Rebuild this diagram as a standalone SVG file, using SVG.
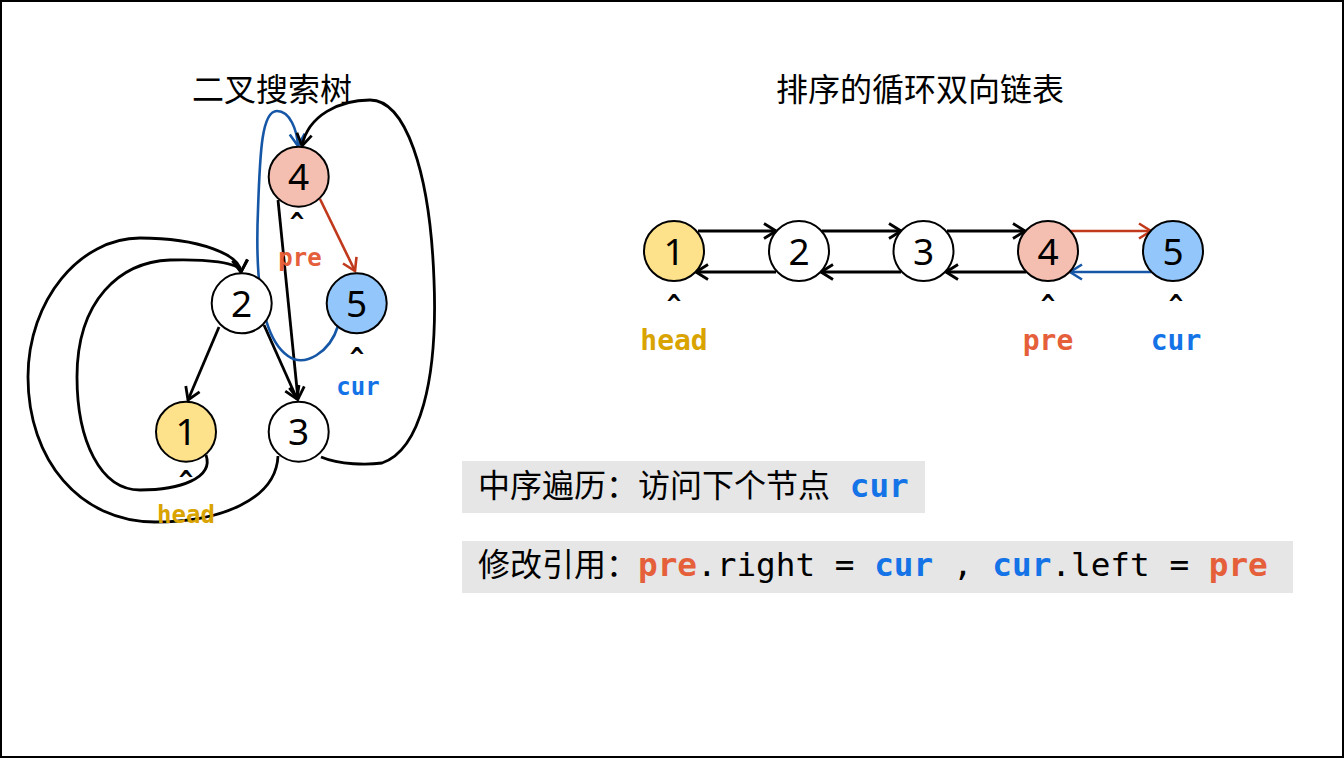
<svg xmlns="http://www.w3.org/2000/svg" width="1344" height="758" viewBox="0 0 1344 758">
<style>
.frame{fill:#fff;stroke:#000;stroke-width:2}
.node circle{stroke:#000;stroke-width:2}
.num{font-family:"Noto Sans","DejaVu Sans",sans-serif;font-size:37px;text-anchor:middle;fill:#000}
.cjk{font-family:"Noto Sans CJK SC",sans-serif;font-size:32px;fill:#000}
.mono{font-family:"DejaVu Sans Mono","Liberation Mono",monospace;font-size:32.7px;fill:#000}
.b{font-weight:bold}
.caret{font-family:"DejaVu Sans Mono",monospace;font-size:24px;font-weight:bold;text-anchor:middle;fill:#000}
.lbl{font-family:"DejaVu Sans Mono",monospace;font-weight:bold;text-anchor:middle}
.pre{fill:#e5603a}
.cur{fill:#1473e6}
.head{fill:#d9a300}
.e{fill:none;stroke:#000;stroke-width:2.8;marker-end:url(#ak)}
.er{fill:none;stroke:#c0391b;stroke-width:2.6;marker-end:url(#ar)}
.eb{fill:none;stroke:#1557a6;stroke-width:2.6;marker-end:url(#ab)}
.box{fill:#e6e6e6}
</style>
<defs>
<marker id="ak" markerUnits="userSpaceOnUse" markerWidth="16" markerHeight="18" viewBox="0 0 16 18" refX="14" refY="9" orient="auto"><path d="M2,1.5 L14,9 L2,16.5" fill="none" stroke="#000" stroke-width="2.8"/></marker>
<marker id="ar" markerUnits="userSpaceOnUse" markerWidth="16" markerHeight="18" viewBox="0 0 16 18" refX="14" refY="9" orient="auto"><path d="M2,1.5 L14,9 L2,16.5" fill="none" stroke="#c0391b" stroke-width="2.6"/></marker>
<marker id="ab" markerUnits="userSpaceOnUse" markerWidth="16" markerHeight="18" viewBox="0 0 16 18" refX="14" refY="9" orient="auto"><path d="M2,1.5 L14,9 L2,16.5" fill="none" stroke="#1557a6" stroke-width="2.6"/></marker>
</defs>
<rect class="frame" x="1" y="1" width="1342" height="756"/>

<text class="cjk" x="272" y="101" text-anchor="middle">二叉搜索树</text>
<text class="cjk" x="920" y="101" text-anchor="middle">排序的循环双向链表</text>

<g id="connectors">
<line class="e" x1="219" y1="327" x2="188" y2="400"/>
<line class="e" x1="264" y1="325" x2="297" y2="399"/>
<line class="e" x1="278" y1="200" x2="298" y2="399"/>
<line class="er" x1="320" y1="199" x2="355" y2="271"/>
<path class="eb" d="M338,326 C330,352 305,368 288,356 C262,338 255,280 258,210 C260,150 262,111 277,111 C290,111 297,130 298,146"/>
<path class="e" d="M321,457 C340,465 368,465 382,463 C420,450 438,380 434,280 C430,170 405,100 370,100 C340,100 308,115 302,146"/>
<path class="e" d="M206,455 C214,478 180,490 140,490 C100,490 77,440 77,377 C77,300 120,262 170,260 C205,259 240,262 241,272"/>
<path class="e" d="M278,456 C276,500 220,522 155,522 C80,522 28,460 28,377 C28,300 80,238 140,238 C200,238 240,255 241,272"/>
<line class="e" x1="698" y1="231" x2="776" y2="231"/>
<line class="e" x1="822" y1="231" x2="901" y2="231"/>
<line class="e" x1="947" y1="231" x2="1025" y2="231"/>
<line class="er" x1="1071" y1="231" x2="1151" y2="231"/>
<line class="e" x1="776" y1="272" x2="696" y2="272"/>
<line class="e" x1="901" y1="272" x2="821" y2="272"/>
<line class="e" x1="1026" y1="272" x2="946" y2="272"/>
<line class="eb" x1="1151" y1="272" x2="1070" y2="272"/>
</g>

<g id="t4" class="node"><circle cx="298.7" cy="176.7" r="30" fill="#f4bfb0"/><text class="num" x="298.7" y="190">4</text></g>
<g id="t5" class="node"><circle cx="356.7" cy="303.3" r="30" fill="#93c6fa"/><text class="num" x="356.7" y="316.6">5</text></g>
<g id="t2" class="node"><circle cx="241.7" cy="303.3" r="30" fill="#fff"/><text class="num" x="241.7" y="316.6">2</text></g>
<g id="t1" class="node"><circle cx="186" cy="431.7" r="30" fill="#fde28b"/><text class="num" x="186" y="445">1</text></g>
<g id="t3" class="node"><circle cx="298.7" cy="431.7" r="30" fill="#fff"/><text class="num" x="298.7" y="445">3</text></g>

<g id="tree-labels">
<text class="caret" x="297" y="230">^</text>
<text class="lbl pre" x="300" y="266" font-size="24">pre</text>
<text class="caret" x="357" y="365">^</text>
<text class="lbl cur" x="358" y="395" font-size="24">cur</text>
<text class="caret" x="186" y="488">^</text>
<text class="lbl head" x="186" y="523" font-size="24">head</text>
</g>

<g id="l1" class="node"><circle cx="674" cy="251" r="30" fill="#fde28b"/><text class="num" x="674" y="264.5">1</text></g>
<g id="l2" class="node"><circle cx="799" cy="251" r="30" fill="#fff"/><text class="num" x="799" y="264.5">2</text></g>
<g id="l3" class="node"><circle cx="923.5" cy="251" r="30" fill="#fff"/><text class="num" x="923.5" y="264.5">3</text></g>
<g id="l4" class="node"><circle cx="1048" cy="251" r="30" fill="#f4bfb0"/><text class="num" x="1048" y="264.5">4</text></g>
<g id="l5" class="node"><circle cx="1173" cy="251" r="30" fill="#93c6fa"/><text class="num" x="1173" y="264.5">5</text></g>

<g id="list-labels">
<text class="caret" x="674" y="312">^</text>
<text class="lbl head" x="674" y="350" font-size="28">head</text>
<text class="caret" x="1048" y="312">^</text>
<text class="lbl pre" x="1048" y="350" font-size="28">pre</text>
<text class="caret" x="1176" y="312">^</text>
<text class="lbl cur" x="1176" y="350" font-size="28">cur</text>
</g>

<g id="note1">
<rect class="box" x="462" y="461" width="463" height="52"/>
<text x="478" y="497"><tspan class="cjk">中序遍历：访问下个节点</tspan><tspan class="mono" xml:space="preserve"> </tspan><tspan class="mono b cur">cur</tspan></text>
</g>
<g id="note2">
<rect class="box" x="462" y="541" width="831" height="52"/>
<text x="478" y="576" xml:space="preserve"><tspan class="cjk">修改引用：</tspan><tspan class="mono b pre">pre</tspan><tspan class="mono">.right = </tspan><tspan class="mono b cur">cur</tspan><tspan class="mono"> , </tspan><tspan class="mono b cur">cur</tspan><tspan class="mono">.left = </tspan><tspan class="mono b pre">pre</tspan></text>
</g>
</svg>
